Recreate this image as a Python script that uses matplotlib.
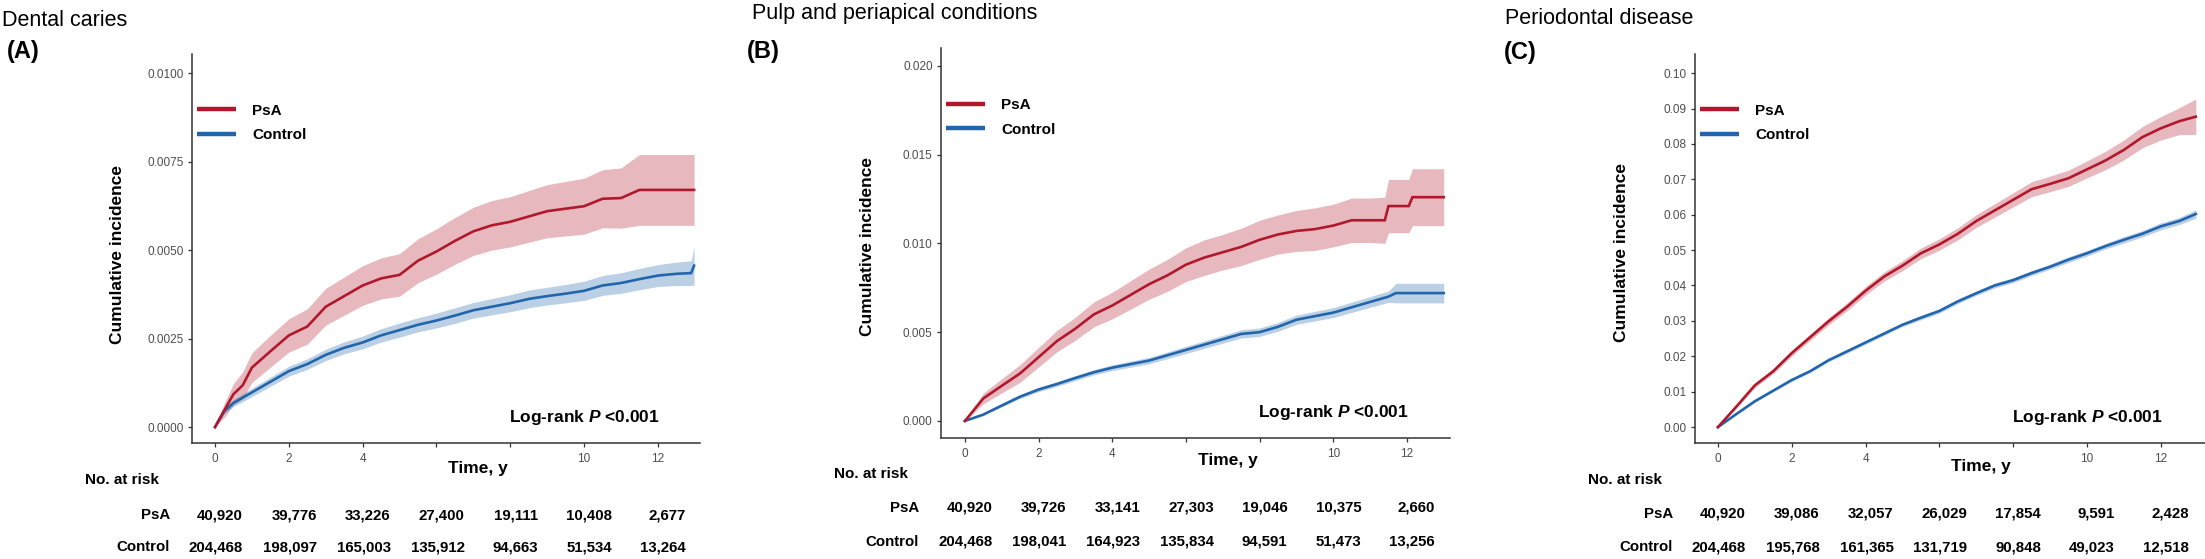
import matplotlib
matplotlib.use('Agg')
import matplotlib.pyplot as plt
from matplotlib.lines import Line2D
from matplotlib import transforms

plt.rcParams['font.family'] = ['Liberation Sans', 'DejaVu Sans']
plt.rcParams['mathtext.fontset'] = 'custom'
plt.rcParams['mathtext.it'] = 'Liberation Sans:italic:bold'
plt.rcParams['mathtext.rm'] = 'Liberation Sans:bold'

# ---------------- data ----------------
group_labels = ['PsA', 'Control']
risk_times = [0, 2, 4, 6, 8, 10, 12]
x_tick_values = [0, 2, 4, 6, 8, 10, 12]
x_tick_labels = ['0', '2', '4', '', '', '10', '12']

# Panel A: Dental caries
a_title = 'Dental caries'
a_tag = '(A)'
a_psa_t = [0, .25, .5, .75, 1, 1.5, 2, 2.5, 3, 3.5, 4, 4.5, 5, 5.5, 6, 6.5, 7, 7.5, 8, 8.5, 9, 9.5, 10, 10.5, 11, 11.5, 12, 12.98]
a_psa_est = [0, .00047, .00093, .00118, .00168, .00214, .00259, .00284, .0034, .0037, .0040, .0042, .0043, .0047, .00496, .00526, .00553, .0057, .0058, .00595, .0061, .00617, .00624, .00645, .00647, .0067, .0067, .0067]
a_psa_lo = [0, .00027, .00063, .0008, .00126, .00169, .00212, .00234, .00288, .00316, .00344, .00362, .0037, .00408, .00432, .0046, .00485, .005, .00509, .00522, .00535, .0054, .00545, .00563, .00562, .0057, .0057, .0057]
a_psa_hi = [0, .00067, .00123, .00156, .0021, .00259, .00306, .00334, .00392, .00424, .00456, .00478, .0049, .00532, .0056, .00592, .00621, .0064, .00651, .00668, .00685, .00694, .00703, .00727, .00732, .0077, .0077, .0077]
a_ctl_t = [0, .25, .5, 1, 1.5, 2, 2.5, 3, 3.5, 4, 4.5, 5, 5.5, 6, 6.5, 7, 7.5, 8, 8.5, 9, 9.5, 10, 10.5, 11, 11.5, 12, 12.5, 12.9, 12.98]
a_ctl_est = [0, .00045, .00068, .00098, .00128, .00158, .00178, .00204, .00224, .00239, .00259, .00274, .00289, .00301, .00315, .0033, .0034, .0035, .00362, .0037, .00377, .00385, .0040, .00407, .00418, .00428, .00433, .00435, .00456]
a_ctl_lo = [0, .00037, .00058, .00086, .00115, .00144, .00163, .00188, .00207, .00221, .0024, .00254, .00269, .0028, .00293, .00308, .00317, .00326, .00337, .00345, .00351, .00358, .00372, .00378, .00388, .00397, .004, .004, .00401]
a_ctl_hi = [0, .00053, .00078, .0011, .00141, .00172, .00193, .0022, .00241, .00257, .00278, .00294, .00309, .00322, .00337, .00352, .00363, .00374, .00387, .00395, .00403, .00412, .00428, .00436, .00448, .00459, .00466, .0047, .00511]
a_yticks = [0, .0025, .005, .0075, .01]
a_yticklabels = ['0.0000', '0.0025', '0.0050', '0.0075', '0.0100']
a_risk_psa = ['40,920', '39,776', '33,226', '27,400', '19,111', '10,408', '2,677']
a_risk_ctl = ['204,468', '198,097', '165,003', '135,912', '94,663', '51,534', '13,264']

# Panel B: Pulp and periapical conditions
b_title = 'Pulp and periapical conditions'
b_tag = '(B)'
b_psa_t = [0, .5, 1, 1.5, 2, 2.5, 3, 3.5, 4, 4.5, 5, 5.5, 6, 6.5, 7, 7.5, 8, 8.5, 9, 9.5, 10, 10.5, 11, 11.4, 11.5, 12.05, 12.15, 13.0]
b_psa_est = [0, .00127, .00198, .00268, .00359, .0045, .0052, .0060, .0065, .0071, .0077, .0082, .0088, .0092, .0095, .0098, .0102, .0105, .0107, .0108, .0110, .0113, .0113, .0113, .0121, .0121, .0126, .0126]
b_psa_lo = [0, .00097, .00158, .00218, .00304, .0039, .00455, .0053, .00575, .0063, .00685, .0073, .00785, .0082, .0085, .00875, .0091, .0094, .00955, .0096, .0098, .01005, .01005, .01, .0106, .0106, .011, .011]
b_psa_hi = [0, .00157, .00238, .00318, .00414, .0051, .00585, .0067, .00725, .0079, .00855, .0091, .00975, .0102, .0105, .01085, .0113, .0116, .01185, .012, .0122, .01255, .01255, .0126, .0136, .0136, .0142, .0142]
b_ctl_t = [0, .5, 1, 1.5, 2, 2.5, 3, 3.5, 4, 4.5, 5, 5.5, 6, 6.5, 7, 7.5, 8, 8.5, 9, 9.5, 10, 10.5, 11, 11.5, 11.7, 13.0]
b_ctl_est = [0, .00036, .00087, .00137, .00177, .00208, .00242, .00274, .0030, .0032, .0034, .0037, .0040, .0043, .0046, .0049, .0050, .0053, .0057, .0059, .0061, .0064, .0067, .0070, .0072, .0072]
b_ctl_lo = [0, .00031, .00079, .00127, .00165, .00195, .00228, .00259, .00284, .00303, .00322, .00351, .0038, .00409, .00438, .00467, .00476, .00505, .00544, .00563, .00582, .00611, .0064, .00668, .00665, .00665]
b_ctl_hi = [0, .00041, .00095, .00147, .00189, .00221, .00256, .00289, .00316, .00337, .00358, .00389, .0042, .00451, .00482, .00513, .00524, .00555, .00596, .00617, .00638, .00669, .007, .00732, .00775, .00775]
b_yticks = [0, .005, .01, .015, .02]
b_yticklabels = ['0.000', '0.005', '0.010', '0.015', '0.020']
b_risk_psa = ['40,920', '39,726', '33,141', '27,303', '19,046', '10,375', '2,660']
b_risk_ctl = ['204,468', '198,041', '164,923', '135,834', '94,591', '51,473', '13,256']

# Panel C: Periodontal disease
c_title = 'Periodontal disease'
c_tag = '(C)'
c_t = [0, .5, 1, 1.5, 2, 2.5, 3, 3.5, 4, 4.5, 5, 5.5, 6, 6.5, 7, 7.5, 8, 8.5, 9, 9.5, 10, 10.5, 11, 11.5, 12, 12.5, 12.95]
c_psa_est = [0, .0058, .0118, .0158, .0209, .0254, .0299, .0340, .0385, .0425, .0456, .0491, .0516, .0546, .0582, .0612, .0642, .0672, .0687, .0703, .0728, .0753, .0783, .0819, .0844, .0864, .0877]
c_psa_lo = [0, .0054, .0112, .0151, .0201, .0245, .0289, .0329, .0373, .0412, .0442, .0476, .05, .0529, .0564, .0593, .0622, .0651, .0665, .068, .0704, .0727, .0755, .0789, .0811, .0826, .0827]
c_psa_hi = [0, .0062, .0124, .0165, .0217, .0263, .0309, .0351, .0397, .0438, .047, .0506, .0532, .0563, .06, .0631, .0662, .0693, .0709, .0726, .0752, .0779, .0811, .0849, .0877, .0902, .0927]
c_ctl_est = [0, .0037, .0073, .0103, .0133, .0158, .0189, .0214, .0239, .0264, .0289, .0309, .0328, .0355, .0378, .0400, .0415, .0435, .0453, .0473, .0491, .0511, .0529, .0546, .0567, .0582, .0602]
c_ctl_lo = [0, .0035, .007, .01, .0129, .0154, .0185, .0209, .0234, .0259, .0284, .0303, .0322, .0349, .0372, .0393, .0408, .0428, .0446, .0465, .0483, .0503, .052, .0537, .0557, .0572, .059]
c_ctl_hi = [0, .0039, .0076, .0106, .0137, .0162, .0193, .0219, .0244, .0269, .0294, .0315, .0334, .0361, .0384, .0407, .0422, .0442, .046, .0481, .0499, .0519, .0538, .0555, .0577, .0592, .0614]
c_yticks = [0, .01, .02, .03, .04, .05, .06, .07, .08, .09, .10]
c_yticklabels = ['0.00', '0.01', '0.02', '0.03', '0.04', '0.05', '0.06', '0.07', '0.08', '0.09', '0.10']
c_risk_psa = ['40,920', '39,086', '32,057', '26,029', '17,854', '9,591', '2,428']
c_risk_ctl = ['204,468', '195,768', '161,365', '131,719', '90,848', '49,023', '12,518']

# ---------------- styling / layout ----------------
RED = '#B2182B'
BLUE = '#2166AC'
W, H = 2205, 559
fig = plt.figure(figsize=(W / 100, H / 100), dpi=100)

panels = [
    dict(title=a_title, tag=a_tag,
         psa=(a_psa_t, a_psa_est, a_psa_lo, a_psa_hi), ctl=(a_ctl_t, a_ctl_est, a_ctl_lo, a_ctl_hi),
         yticks=a_yticks, ylabels=a_yticklabels, risk=(a_risk_psa, a_risk_ctl),
         box=(192, 700, 54, 443), xlim=(-0.623, 13.14), ylim=(-0.00045, 0.01054),
         title_xy=(2, 20), tag_xy=(7, 52), rows_y=(515, 547), nrisk_y=480, time_y=468, ylab_y=254),
    dict(title=b_title, tag=b_tag,
         psa=(b_psa_t, b_psa_est, b_psa_lo, b_psa_hi), ctl=(b_ctl_t, b_ctl_est, b_ctl_lo, b_ctl_hi),
         yticks=b_yticks, ylabels=b_yticklabels, risk=(b_risk_psa, b_risk_ctl),
         box=(941, 1450, 48, 438), xlim=(-0.65, 13.17), ylim=(-0.00096, 0.021),
         title_xy=(752, 13), tag_xy=(747, 52), rows_y=(508, 542), nrisk_y=474, time_y=460, ylab_y=246),
    dict(title=c_title, tag=c_tag,
         psa=(c_t, c_psa_est, c_psa_lo, c_psa_hi), ctl=(c_t, c_ctl_est, c_ctl_lo, c_ctl_hi),
         yticks=c_yticks, ylabels=c_yticklabels, risk=(c_risk_psa, c_risk_ctl),
         box=(1695, 2205, 54, 443), xlim=(-0.623, 13.2), ylim=(-0.0045, 0.1054),
         title_xy=(1505, 19), tag_xy=(1504, 53), rows_y=(514, 547), nrisk_y=480, time_y=467, ylab_y=253),
]


def fx(px):
    return px / W


def fy(py):
    return 1 - py / H


for p in panels:
    l, r, t, b = p['box']
    ax = fig.add_axes([fx(l), fy(b), (r - l) / W, (b - t) / H])
    for (tt, est, lo, hi), col in ((p['psa'], RED), (p['ctl'], BLUE)):
        ax.fill_between(tt, lo, hi, color=col, alpha=0.3, linewidth=0)
    for (tt, est, lo, hi), col in ((p['ctl'], BLUE), (p['psa'], RED)):
        ax.plot(tt, est, color=col, lw=1.9, solid_joinstyle='miter')
    ax.set_xlim(*p['xlim'])
    ax.set_ylim(*p['ylim'])
    ax.set_xticks(x_tick_values)
    ax.set_xticklabels(x_tick_labels)
    ax.set_yticks(p['yticks'])
    ax.set_yticklabels(p['ylabels'])
    for s in ('top', 'right'):
        ax.spines[s].set_visible(False)
    for s in ('left', 'bottom'):
        ax.spines[s].set_color('#333333')
        ax.spines[s].set_linewidth(1.1)
    ax.tick_params(axis='both', length=3, width=0.9, color='#333333',
                   labelcolor='#4D4D4D', labelsize=8.5)
    ax.tick_params(axis='x', pad=4)
    ax.tick_params(axis='y', pad=3)

    handles = [Line2D([], [], color=RED, lw=3.2, solid_capstyle='butt'),
               Line2D([], [], color=BLUE, lw=3.2, solid_capstyle='butt')]
    ax.legend(handles, group_labels, loc='upper left', bbox_to_anchor=(0.0098, 0.872),
              frameon=False, borderpad=0, borderaxespad=0, handlelength=2.55,
              handletextpad=1.05, labelspacing=0.7,
              prop=dict(family='Liberation Sans', weight='bold', size=11))

    ax.text(12.05, 0.065, 'Log-rank $P$ <0.001', transform=ax.get_xaxis_transform(),
            ha='right', va='center', fontsize=12.5, fontweight='bold')

    bt = transforms.blended_transform_factory(ax.transData, fig.transFigure)
    ax.text(7.13, fy(p['time_y']), 'Time, y', transform=bt, ha='center', va='center',
            fontsize=12.5, fontweight='bold', clip_on=False)

    fig.text(fx(l - 74), fy(p['ylab_y']), 'Cumulative incidence', rotation=90,
             ha='center', va='center', fontsize=12.5, fontweight='bold')

    fig.text(fx(p['title_xy'][0]), fy(p['title_xy'][1]), p['title'], ha='left', va='center',
             fontsize=15.5)
    fig.text(fx(p['tag_xy'][0]), fy(p['tag_xy'][1]), p['tag'], ha='left', va='center',
             fontsize=17, fontweight='bold')

    fig.text(fx(l - 107), fy(p['nrisk_y']), 'No. at risk', ha='left', va='center',
             fontsize=11, fontweight='bold')
    for label, vals, ry in zip(group_labels, p['risk'], p['rows_y']):
        fig.text(fx(l - 22), fy(ry), label, ha='right', va='center', fontsize=10.8,
                 fontweight='bold')
        for tv, v in zip(risk_times, vals):
            ax.text(tv + 0.76, fy(ry), v, transform=bt, ha='right', va='center',
                    fontsize=10.8, fontweight='bold', clip_on=False)

fig.savefig('out.png', dpi=100)
